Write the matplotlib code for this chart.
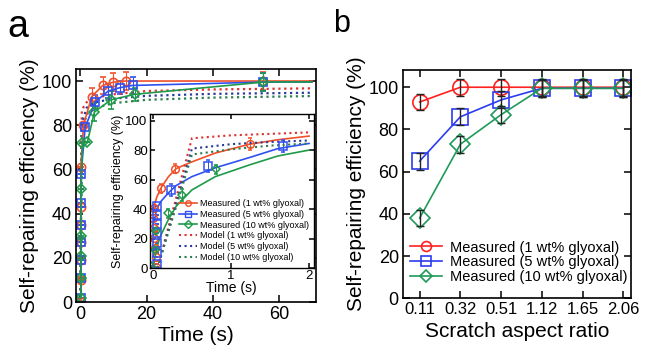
import numpy as np
import matplotlib.pyplot as plt

plt.rcParams['font.family'] = ['Liberation Sans', 'DejaVu Sans']
plt.rcParams['mathtext.default'] = 'regular'

# ---- panel a, main: measured points ----
t_red = [0.2, 0.2, 0.2, 0.2, 0.2, 0.2, 0.2, 1.0, 3.5, 6.8, 10.0, 13.7, 55.0]
y_red = [0, 10, 19, 27, 35, 43, 61, 80, 93, 98, 99.5, 100, 100]
e_red = [0, 0, 0, 0, 0, 0, 0, 0, 4, 4, 4, 4, 4]
t_blue = [0.3, 0.3, 0.3, 0.3, 0.3, 0.3, 0.3, 1.5, 4.5, 8.5, 12.0, 15.8, 55.0]
y_blue = [2, 11, 19, 27, 35, 45, 58, 79, 90.5, 95.5, 97, 98, 99.5]
e_blue = [0, 0, 0, 0, 0, 0, 0, 0, 3, 3, 3, 4, 4]
t_green = [0.3, 0.3, 0.3, 0.3, 0.3, 0.7, 2.2, 4.3, 9.3, 16.5, 55.0]
y_green = [2, 11, 21, 30, 51, 72, 72.5, 86, 91.5, 94, 99.5]
e_green = [0, 0, 0, 0, 0, 0, 0, 4, 4, 3, 4]
t_end = 70.0
y_end = [100, 99.6, 99.6]

# ---- panel a, main: model curves ----
t_model = [0.05, 0.5, 2, 5, 10, 20, 40, 70]
m_red = [0, 87, 90.5, 92.5, 94, 95.5, 96.2, 96.7]
m_blue = [0, 81, 88, 90.5, 92, 93.3, 94.2, 94.7]
m_green = [0, 77, 85, 88, 90, 91.5, 92.5, 93.2]

# ---- panel a, inset ----
ti_red = [0.04, 0.04, 0.03, 0.02, 0.01, 0.0, 0.01, 0.10, 0.28, 1.24]
yi_red = [0.5, 7.4, 13.6, 20.5, 27, 34, 41, 54, 67.5, 84]
ei_red = [0, 0, 0, 0, 0, 0, 0, 3, 3, 4]
ti_blue = [0.05, 0.05, 0.05, 0.05, 0.05, 0.05, 0.05, 0.23, 0.71, 1.67]
yi_blue = [3, 10, 17, 24, 30, 36, 42, 53, 69, 82.5]
ei_blue = [0, 0, 0, 0, 0, 0, 0, 4, 4, 4]
ti_green = [-0.02, 0.03, 0.04, 0.19, 0.37, 0.81]
yi_green = [1.6, 12, 25, 37, 49.5, 67]
ei_green = [0, 0, 0, 3, 4, 3]
tf = [0.01, 0.05, 0.1, 0.2, 0.3, 0.5, 0.8, 1.24, 1.6, 2.0]
fi_red = [41, 48, 54, 62, 67.5, 72, 78, 84, 87, 89.5]
fi_blue = [30, 40, 45, 51, 56, 62, 68, 75, 81, 84.5]
fi_green = [2, 14, 22, 33, 42, 53, 62, 70, 76, 80]
ti_model = [0.06, 0.5, 1.0, 1.5, 2.0]
mi_red = [0, 88, 90, 91, 92]
mi_blue = [0, 81, 84, 85.5, 86.5]
mi_green = [0, 77, 80.5, 83, 84.5]

# ---- panel b ----
ratios = ['0.11', '0.32', '0.51', '1.12', '1.65', '2.06']
b_red = [93, 100, 100, 100, 100, 100]
b_blue = [65, 86, 94, 99.5, 99.5, 99.5]
b_green = [38, 73, 87, 99.5, 99.5, 99.5]
b_err = [4, 4, 4, 4, 4, 4]

labels = ['Measured (1 wt% glyoxal)', 'Measured (5 wt% glyoxal)',
          'Measured (10 wt% glyoxal)']
model_labels = ['Model (1 wt% glyoxal)', 'Model (5 wt% glyoxal)',
                'Model (10 wt% glyoxal)']
ca = ['#f0502a', '#3050f0', '#1f9a4a']
cm = ['#e03030', '#2a3a9a', '#2e7d4f']


def style(ax, size):
    ax.tick_params(direction='in', top=True, right=True, length=5,
                   width=1.1, labelsize=size, pad=3)
    for s in ax.spines.values():
        s.set_linewidth(1.2)


fig = plt.figure(figsize=(6.51, 3.55), dpi=100)

# panel a
ax = fig.add_axes([0.117, 0.149, 0.368, 0.657])
for t, y, e, c, m in [(t_red, y_red, e_red, ca[0], 'o'),
                      (t_blue, y_blue, e_blue, ca[1], 's'),
                      (t_green, y_green, e_green, ca[2], 'D')]:
    ax.errorbar(t, y, yerr=e, color=c, marker=m, mfc='none', ms=6 if m != 'D' else 5,
                mew=1.2, lw=1.2, capsize=2, elinewidth=0.8)
for y0, c in zip(y_end, ca):
    ax.plot([55, t_end], [y0, y0], color=c, lw=1.2)
for m, c in zip([m_red, m_blue, m_green], cm):
    ax.plot(t_model, m, color=c, ls=':', lw=1.6)
ax.set_xlim(-1.2, 71)
ax.set_ylim(0, 105.5)
ax.set_xticks([0, 20, 40, 60])
ax.set_yticks(range(0, 101, 20))
style(ax, 13)
ax.set_xlabel('Time (s)', fontsize=15, labelpad=2)
ax.set_ylabel('Self-repairing efficiency (%)', fontsize=15, labelpad=2)
fig.text(0.012, 0.895, 'a', fontsize=27, va='baseline')

# inset
axi = fig.add_axes([0.230, 0.245, 0.252, 0.434])
hs = []
for t, y, e, f, c, m in [(ti_red, yi_red, ei_red, fi_red, ca[0], 'o'),
                         (ti_blue, yi_blue, ei_blue, fi_blue, ca[1], 's'),
                         (ti_green, yi_green, ei_green, fi_green, ca[2], 'D')]:
    axi.errorbar(t, y, yerr=e, color=c, marker=m, mfc='none', ls='none',
                 ms=5.5 if m != 'D' else 4.5, mew=1.1, capsize=1.5, elinewidth=0.7)
    axi.plot(tf, f, color=c, lw=1.2)
    h, = axi.plot([], [], color=c, marker=m, mfc='none', ms=4, mew=1, lw=1.2)
    hs.append(h)
for m, c in zip([mi_red, mi_blue, mi_green], cm):
    h, = axi.plot(ti_model, m, color=c, ls=':', lw=1.5)
    hs.append(h)
axi.set_xlim(-0.04, 2.06)
axi.set_ylim(0, 104.5)
axi.set_xticks([0, 1, 2])
axi.set_yticks(range(0, 101, 20))
style(axi, 9.5)
axi.tick_params(length=3.5, pad=1.5)
for s in axi.spines.values():
    s.set_linewidth(1.0)
axi.set_xlabel('Time (s)', fontsize=10, labelpad=-1)
axi.set_ylabel('Self-repairing efficiency (%)', fontsize=9, labelpad=1)
axi.legend(hs, labels + model_labels, loc='lower right', fontsize=6.5,
           frameon=False, handlelength=2.0, handletextpad=0.4,
           labelspacing=0.2, borderaxespad=0.1, bbox_to_anchor=(1.0, 0.01))

# panel b
bx = fig.add_axes([0.619, 0.160, 0.351, 0.643])
x = np.arange(len(ratios))
for y, c, m, lab in [(b_red, '#ff2020', 'o', labels[0]),
                     (b_blue, '#2c3cf0', 's', labels[1]),
                     (b_green, '#1f9a5a', 'D', labels[2])]:
    bx.errorbar(x, y, yerr=b_err, fmt='none', ecolor='#222222', elinewidth=1.0,
                capsize=3, capthick=1.0, zorder=3)
    bx.plot(x, y, color=c, marker=m, mfc='none', ms=11 if m != 'D' else 10,
            mew=1.2, lw=1.2, label=lab, zorder=2)
bx.set_xlim(-0.41, 5.2)
bx.set_ylim(0, 108.2)
bx.set_xticks(x)
bx.set_xticklabels(ratios)
bx.set_yticks(range(0, 101, 20))
style(bx, 13)
bx.tick_params(axis='x', labelsize=12)
bx.set_xlabel('Scratch aspect ratio', fontsize=15, labelpad=3)
bx.set_ylabel('Self-repairing efficiency (%)', fontsize=15, labelpad=2)
bx.legend(loc='lower left', fontsize=10.5, frameon=False, handlelength=2.2,
          handletextpad=0.5, labelspacing=0.05, markerscale=0.65,
          borderaxespad=0.1, bbox_to_anchor=(0.0, 0.03))
fig.text(0.512, 0.91, 'b', fontsize=22, va='baseline')

fig.savefig('out.png', dpi=100)
